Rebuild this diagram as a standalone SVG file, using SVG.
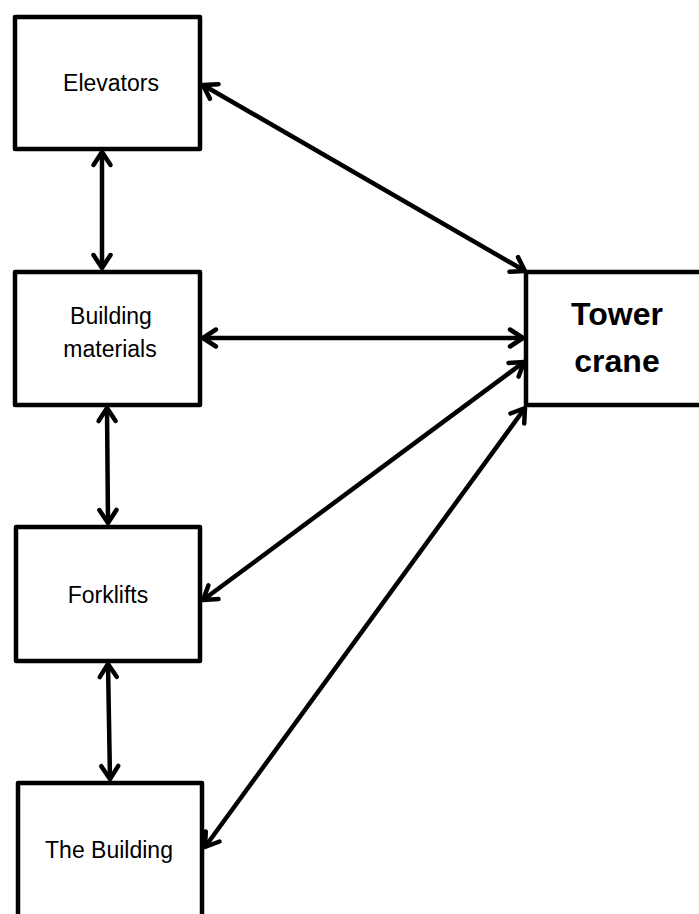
<svg xmlns="http://www.w3.org/2000/svg" width="699" height="914" viewBox="0 0 699 914">
<style>
.box{fill:#fff;stroke:#000;stroke-width:4.5;stroke-linejoin:round}
.lbl{font-family:"Liberation Sans",Arial,sans-serif;font-size:23px;fill:#000;text-anchor:middle}
.big{font-family:"Liberation Sans",Arial,sans-serif;font-size:32px;font-weight:bold;fill:#000;text-anchor:middle}
.con{stroke:#000;stroke-width:4.5;fill:none;marker-start:url(#ah);marker-end:url(#ah)}
</style>
<defs>
<marker id="ah" markerUnits="userSpaceOnUse" viewBox="-16 -12 20 24" refX="0" refY="0" markerWidth="20" markerHeight="24" orient="auto-start-reverse" overflow="visible">
<path d="M-13,-8.5 L0,0 L-13,8.5" fill="none" stroke="#000" stroke-width="4.5" stroke-linecap="round" stroke-linejoin="round"/>
</marker>
</defs>
<rect width="699" height="914" fill="#fff"/>
<g id="elevators">
<rect class="box" x="15" y="17" width="185" height="132"/>
<text class="lbl" x="111" y="91">Elevators</text>
</g>
<g id="building-materials">
<rect class="box" x="15" y="272" width="185" height="133"/>
<text class="lbl" x="111" y="324">Building</text>
<text class="lbl" x="110" y="357">materials</text>
</g>
<g id="forklifts">
<rect class="box" x="16" y="527" width="184" height="134"/>
<text class="lbl" x="108" y="603">Forklifts</text>
</g>
<g id="the-building">
<rect class="box" x="18" y="783" width="184" height="150"/>
<text class="lbl" x="109" y="858">The Building</text>
</g>
<g id="tower-crane">
<rect class="box" x="526" y="272" width="200" height="133"/>
<text class="big" x="617" y="325">Tower</text>
<text class="big" x="617" y="372">crane</text>
</g>
<g id="connectors">
<line class="con" x1="102" y1="152" x2="102" y2="268"/>
<line class="con" x1="107" y1="408" x2="108" y2="523"/>
<line class="con" x1="108" y1="664" x2="110" y2="779"/>
<line class="con" x1="203" y1="85" x2="525" y2="271"/>
<line class="con" x1="203" y1="338" x2="523" y2="338"/>
<line class="con" x1="203" y1="600" x2="524" y2="362"/>
<line class="con" x1="205" y1="847" x2="525" y2="408"/>
</g>
</svg>
